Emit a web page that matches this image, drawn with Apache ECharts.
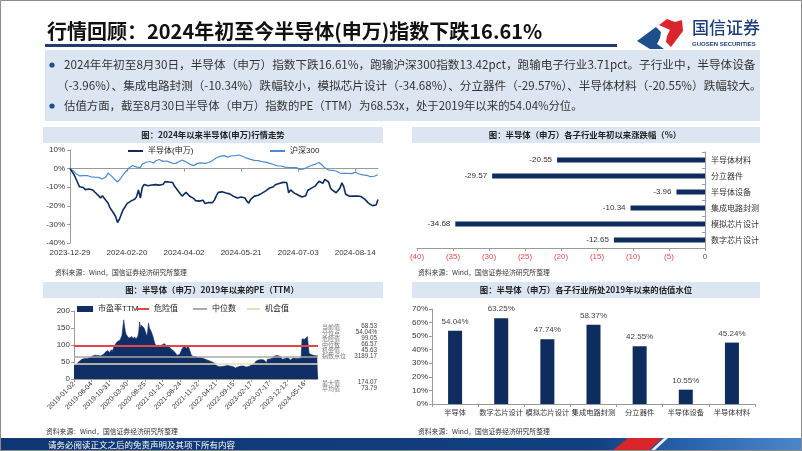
<!DOCTYPE html>
<html><head><meta charset="utf-8">
<script src="https://cdn.jsdelivr.net/npm/echarts@6/dist/echarts.min.js"></script>
<style>html,body{margin:0;padding:0;background:#fff}#main{width:802px;height:451px}</style>
</head><body><div id="main"></div>
<script>
// ---------- Chart 1: 2024 trend ----------
const lineTicks = ['2023-12-29','2024-02-20','2024-04-02','2024-05-21','2024-07-03','2024-08-14'];
const marketHolidays = ['2024-01-01','2024-02-09','2024-02-12','2024-02-13','2024-02-14','2024-02-15','2024-02-16','2024-04-04','2024-04-05','2024-05-01','2024-05-02','2024-05-03','2024-06-10'];
const semiValues = [
0,-1.5,-3.0,-5.2,-7.5,-9.8,-10.8,-10.2,-11.3,-10.6,
-11.0,-12.0,-11.5,-12.6,-13.2,-14.5,-15.8,-14.6,-15.9,-16.8,
-18.5,-21.0,-22.5,-24.0,-25.8,-29.0,-27.2,-24.5,-22.0,-20.5,
-18.8,-18.0,-17.5,-17.8,-16.5,-15.2,-11.5,-15.8,-10.2,-8.5,
-8.0,-9.2,-9.6,-8.8,-8.2,-8.6,-7.8,-8.9,-9.8,-8.4,
-7.0,-6.5,-7.2,-6.8,-7.5,-9.5,-10.8,-12.2,-13.5,-14.8,
-13.9,-12.8,-13.5,-14.9,-15.2,-16.0,-17.2,-17.8,-17.5,-16.6,
-17.0,-18.8,-19.6,-18.2,-19.0,-18.3,-16.8,-14.5,-12.8,-13.2,
-12.5,-12.0,-13.1,-14.0,-13.6,-14.5,-14.9,-15.4,-15.8,-15.0,
-15.3,-15.1,-15.8,-17.5,-18.6,-16.5,-15.8,-14.8,-15.2,-14.3,
-14.0,-13.2,-12.4,-12.0,-11.0,-10.4,-9.6,-9.8,-8.7,-8.4,
-8.0,-7.6,-7.4,-7.2,-7.5,-13.0,-11.5,-12.3,-13.2,-13.8,
-14.2,-14.9,-15.3,-15.0,-14.6,-11.8,-11.0,-10.5,-9.8,-9.4,
-8.0,-6.8,-7.4,-7.9,-5.8,-5.0,-7.2,-10.4,-11.6,-12.3,
-13.0,-12.2,-10.5,-7.6,-9.8,-13.8,-14.6,-14.9,-14.6,-14.8,
-15.1,-14.7,-14.4,-15.0,-15.6,-16.4,-17.5,-18.6,-19.5,-19.9,
-20.5,-19.6,-16.61];
const hs300Values = [
0,-0.6,-1.5,-2.6,-3.2,-3.9,-4.2,-3.8,-4.1,-3.7,
-4.1,-4.4,-4.0,-4.6,-5.5,-4.7,-5.3,-5.6,-5.0,-4.4,
-2.4,-3.0,-4.2,-5.3,-6.2,-7.2,-6.6,-4.8,-3.2,-2.0,
-0.9,0.3,1.3,1.7,1.2,0.8,1.5,0.6,2.4,2.9,
3.4,3.1,3.8,3.3,3.0,4.2,4.6,4.9,4.3,3.9,
4.4,4.1,3.6,3.2,2.8,2.6,2.9,3.5,4.3,4.6,
4.0,3.6,3.0,2.4,2.0,1.6,2.3,2.8,2.1,3.1,
3.4,2.8,2.6,3.3,3.6,4.4,5.2,5.8,6.4,6.6,
6.3,7.0,6.7,6.2,6.4,6.9,7.3,7.0,7.5,7.3,
6.8,6.5,6.0,5.6,5.4,5.0,4.6,4.4,4.7,4.3,
4.0,3.8,4.1,3.5,3.1,2.8,2.5,2.2,1.9,1.5,
1.2,1.4,1.0,0.8,1.1,0.6,0.9,0.5,0.3,0.5,
-0.1,-0.4,-0.6,-0.2,0.3,0.9,1.4,1.7,2.0,2.3,
2.9,3.3,2.5,1.5,0.4,-0.5,-0.8,-0.4,-1.0,-0.6,
-1.3,-1.9,-2.4,-2.1,-2.6,-2.8,-2.5,-2.9,-2.7,-2.2,
-2.0,-2.6,-2.9,-3.1,-3.4,-3.0,-3.6,-3.9,-4.3,-4.6,
-4.1,-3.7,-3.3];

// ---------- Chart 2: sub-industry YTD change ----------
const subCats = ['数字芯片设计','模拟芯片设计','集成电路封测','半导体设备','分立器件','半导体材料'];
const subChanges = [-12.65,-34.68,-10.34,-3.96,-29.57,-20.55];

// ---------- Chart 3: PE (TTM) since 2019 (weekly samples) ----------
const peTicks = ['2019-01-02','2019-06-04','2019-10-31','2020-03-30','2020-08-25','2021-01-21','2021-06-24','2021-11-22','2022-04-21','2022-09-15','2023-02-17','2023-07-17','2023-12-12','2024-05-16'];
const peValues = [
41,40,42,44,46,48,52,55,57,58,
59,58,60,59,61,60,62,61,63,66,
67,68,67,69,70,68,67,69,66,67,
68,67,70,72,74,78,80,82,84,80,
78,82,86,80,85,95,100,104,108,110,
112,113,115,118,128,150,174,155,138,130,
125,128,120,118,122,125,120,118,124,120,
118,122,126,140,168,150,158,162,155,150,
145,135,125,140,165,150,152,140,135,125,
115,105,100,95,92,94,96,95,98,100,
97,95,104,100,98,96,94,98,92,90,
88,85,82,80,78,76,70,66,68,72,
78,84,90,92,96,98,95,90,97,94,
88,80,72,68,66,67,65,66,64,65,
63,64,62,63,61,62,60,58,59,57,
56,55,54,52,53,51,50,48,47,45,
42,39,37,35,36,34,36,37,38,36,
38,39,38,40,39,37,38,40,39,37,
35,33,32,34,35,36,37,36,38,37,
36,38,37,36,35,37,38,37,39,40,
41,42,43,45,47,52,55,57,56,55,
56,57,56,55,56,57,55,48,58,60,
58,59,61,60,62,65,68,72,70,69,
66,64,67,65,62,58,60,56,60,62,
64,63,60,58,56,57,60,62,64,62,
60,61,63,60,58,60,62,118,116,120,
117,119,118,125,128,75,72,73,71,72,
70,69,71,70,68,68.53];
const peDanger = 99.05, peMedian = 66.57, peChance = 45.63;
const peStatLabels = ['当前值','分位点','危险值','中位数','机会值','指数点位','最大值','平均值'];
const peStatValues = ['68.53','54.04%','99.05','66.57','45.63','3189.17','174.07','73.79'];

// ---------- Chart 4: valuation percentile ----------
const valCats = ['半导体','数字芯片设计','模拟芯片设计','集成电路封测','分立器件','半导体设备','半导体材料'];
const valPct = [54.04,63.25,47.74,58.37,42.55,10.55,45.24];

// ---------- build categories ----------
function tradingDays(start, end, hol) {
  const out = []; const hs = new Set(hol);
  const d = new Date(start + 'T00:00:00Z'); const e = new Date(end + 'T00:00:00Z');
  while (d <= e) {
    const wd = d.getUTCDay(); const s = d.toISOString().slice(0, 10);
    if (wd !== 0 && wd !== 6 && !hs.has(s)) out.push(s);
    d.setUTCDate(d.getUTCDate() + 1);
  }
  return out;
}
const lineDates = tradingDays('2023-12-29', '2024-08-30', marketHolidays);
const peCats = peValues.map((_, i) => String(i));

const NAVY = '#0e2d5e';
const FONT = '"Liberation Sans", "Noto Sans CJK SC", sans-serif';
const CJK = '"Noto Sans CJK SC", sans-serif';
const axisGray = '#9a9a9a';

const chart = echarts.init(document.getElementById('main'), null, {renderer: 'canvas'});

function txt(x, y, text, font, fill, align) {
  return {type: 'text', x: x, y: y, silent: true,
    style: {text: text, font: font, fill: fill || '#222', textAlign: align || 'left', textVerticalAlign: 'middle'}};
}
function rect(x, y, w, h, fill) {
  return {type: 'rect', silent: true, shape: {x: x, y: y, width: w, height: h}, style: {fill: fill}};
}

const graphics = [
  {type: 'rect', silent: true, z: 100, shape: {x: 0.5, y: 0.5, width: 801, height: 450}, style: {fill: 'none', stroke: '#8c8c8c', lineWidth: 1}},
  txt(47, 31, '行情回顾：2024年初至今半导体(申万)指数下跌16.61%', 'bold 20px ' + CJK, '#111'),
  rect(45, 44, 572, 3, '#1f3d6e'),
  // logo
  {type: 'polygon', silent: true, shape: {points: [[637, 41], [656, 27], [661, 32], [660, 38], [657, 44], [664, 49], [650, 49]]}, style: {fill: '#1f4e8c'}},
  {type: 'polygon', silent: true, shape: {points: [[659, 25], [667, 19], [675, 22], [682, 20], [683, 31], [671, 47], [666, 42], [667, 36], [670, 30]]}, style: {fill: '#d9262c'}},
  txt(692, 28, '国信证券', '500 17px ' + CJK, '#1c3f7a'),
  txt(692, 44.5, 'GUOSEN SECURITIES', 'bold 6px "Liberation Sans", sans-serif', '#1c3f7a'),
  // text box
  rect(45, 50, 715, 71, '#dce6f2'),
  {type: 'circle', silent: true, shape: {cx: 52, cy: 65, r: 2.6}, style: {fill: '#1f4e8c'}},
  {type: 'circle', silent: true, shape: {cx: 52, cy: 106, r: 2.6}, style: {fill: '#1f4e8c'}},
  txt(64, 65, '2024年年初至8月30日，半导体（申万）指数下跌16.61%，跑输沪深300指数13.42pct，跑输电子行业3.71pct。子行业中，半导体设备', '11.65px ' + CJK, '#333'),
  txt(57, 85.5, '（-3.96%）、集成电路封测（-10.34%）跌幅较小，模拟芯片设计（-34.68%）、分立器件（-29.57%）、半导体材料（-20.55%）跌幅较大。', '11.6px ' + CJK, '#333'),
  txt(64, 106, '估值方面，截至8月30日半导体（申万）指数的PE（TTM）为68.53x，处于2019年以来的54.04%分位。', '11.4px ' + CJK, '#333'),
  // chart title bars
  rect(43, 127, 340, 16, '#dce6f2'),
  rect(412, 127, 348, 16, '#dce6f2'),
  rect(43, 282, 340, 16, '#dce6f2'),
  rect(412, 282, 348, 16, '#dce6f2'),
  txt(213, 135, '图：2024年以来半导体(申万)行情走势', 'bold 8.4px ' + CJK, '#222', 'center'),
  txt(585, 135, '图：半导体（申万）各子行业年初以来涨跌幅（%）', 'bold 8.4px ' + CJK, '#222', 'center'),
  txt(212, 290, '图：半导体（申万）2019年以来的PE（TTM）', 'bold 8.4px ' + CJK, '#222', 'center'),
  txt(586, 290, '图：半导体（申万）各子行业所处2019年以来的估值水位', 'bold 8.4px ' + CJK, '#222', 'center'),
  // sources
  txt(55, 272, '资料来源：Wind，国信证券经济研究所整理', '6.8px ' + CJK, '#333'),
  txt(418, 272, '资料来源：Wind，国信证券经济研究所整理', '6.8px ' + CJK, '#333'),
  txt(46, 431, '资料来源：Wind，国信证券经济研究所整理', '6.8px ' + CJK, '#333'),
  txt(418, 431, '资料来源：Wind，国信证券经济研究所整理', '6.8px ' + CJK, '#333'),
  // footer
  {type: 'rect', silent: true, shape: {x: 0, y: 438, width: 802, height: 13},
    style: {fill: new echarts.graphic.LinearGradient(0, 0, 1, 0, [{offset: 0, color: '#0f3774'}, {offset: 0.74, color: '#12407f'}, {offset: 0.86, color: '#2a64ad'}, {offset: 1, color: '#4d86c8'}])}},
  {type: 'polygon', silent: true, shape: {points: [[612, 451], [628, 438], [662, 438], [648, 451]]}, style: {fill: '#d9262c'}},
  {type: 'polygon', silent: true, shape: {points: [[650, 451], [664, 438], [668, 438], [654, 451]]}, style: {fill: '#e9eef6'}},
  txt(48, 444.5, '请务必阅读正文之后的免责声明及其项下所有内容', '8.5px ' + CJK, '#ffffff')
];
// PE stats
const statY = [326.7, 332.7, 338.7, 344.3, 350, 356, 382.7, 388.3];
peStatLabels.forEach((l, i) => {
  graphics.push(txt(322, statY[i], l, '6px ' + CJK, '#7a7a7a'));
  graphics.push(txt(377, statY[i], peStatValues[i], '6.3px "Liberation Sans", sans-serif', '#444', 'right'));
});

const lineLegendBase = {orient: 'horizontal', icon: 'rect', itemWidth: 15, itemHeight: 2, textStyle: {fontSize: 8, color: '#222', fontFamily: FONT}, padding: 0};

const option = {
  animation: false,
  textStyle: {fontFamily: FONT},
  grid: [
    {left: 70, top: 150, width: 308, height: 93, containLabel: false, outerBoundsMode: 'none'},
    {left: 417, top: 152, width: 288, height: 96, containLabel: false, outerBoundsMode: 'none'},
    {left: 74, top: 311, width: 244, height: 68, containLabel: false, outerBoundsMode: 'none'},
    {left: 432, top: 309, width: 323, height: 95, containLabel: false, outerBoundsMode: 'none'}
  ],
  legend: [
    Object.assign({}, lineLegendBase, {left: 128, top: 147, data: ['半导体(申万)']}),
    Object.assign({}, lineLegendBase, {left: 270, top: 147, data: ['沪深300']}),
    {left: 77, top: 305, padding: 0, icon: 'rect', itemWidth: 16, itemHeight: 6, data: ['市盈率TTM'], textStyle: {fontSize: 8, color: '#222', fontFamily: FONT}},
    Object.assign({}, lineLegendBase, {left: 136, top: 305, itemWidth: 13, data: ['危险值']}),
    Object.assign({}, lineLegendBase, {left: 193, top: 305, itemWidth: 14, data: ['中位数']}),
    Object.assign({}, lineLegendBase, {left: 247, top: 305, itemWidth: 13, data: ['机会值']})
  ],
  xAxis: [
    {gridIndex: 0, type: 'category', data: lineDates, boundaryGap: false,
      axisLine: {show: false, onZero: false}, axisTick: {show: false},
      axisLabel: {interval: 29, fontSize: 8, color: '#333', margin: 6,
        formatter: (v, i) => (i % 30 === 0 && lineTicks[i / 30]) ? lineTicks[i / 30] : ''}},
    {gridIndex: 0, type: 'category', data: lineDates, boundaryGap: false, position: 'bottom',
      axisLine: {show: true, onZero: true, lineStyle: {color: axisGray, width: 1}},
      axisTick: {show: true, interval: 29, length: 3, lineStyle: {color: axisGray}}, axisLabel: {show: false}},
    {gridIndex: 1, type: 'value', min: -40, max: 0, interval: 5,
      axisLine: {show: true, onZero: false, lineStyle: {color: axisGray}}, axisTick: {show: true, length: 3, lineStyle: {color: axisGray}},
      splitLine: {show: false},
      axisLabel: {margin: 5, formatter: v => v === 0 ? '{z|0}' : '{r|(' + (-v) + ')}',
        rich: {r: {color: '#e8474a', fontSize: 8, fontFamily: FONT}, z: {color: '#555', fontSize: 8, fontFamily: FONT}}}},
    {gridIndex: 2, type: 'category', data: peCats, boundaryGap: false,
      axisLine: {show: true, lineStyle: {color: axisGray}}, axisTick: {show: true, interval: 19, length: 3, lineStyle: {color: axisGray}},
      axisLabel: {interval: 19, rotate: 45, fontSize: 7, color: '#333', margin: 4,
        formatter: (v, i) => (i % 20 === 0 && peTicks[i / 20]) ? peTicks[i / 20] : ''}},
    {gridIndex: 3, type: 'category', data: valCats,
      axisLine: {show: true, lineStyle: {color: axisGray}}, axisTick: {show: true, length: 3, lineStyle: {color: axisGray}},
      axisLabel: {interval: 0, fontSize: 7.3, color: '#333', margin: 5, fontFamily: CJK}}
  ],
  yAxis: [
    {gridIndex: 0, type: 'value', min: -40, max: 10, interval: 10,
      axisLine: {show: true, lineStyle: {color: axisGray}}, axisTick: {show: true, length: 3, lineStyle: {color: axisGray}},
      splitLine: {show: false}, axisLabel: {formatter: '{value}%', fontSize: 8, color: '#333', margin: 5}},
    {gridIndex: 1, type: 'category', data: subCats, position: 'right',
      axisLine: {show: true, onZero: false, lineStyle: {color: axisGray}}, axisTick: {show: true, inside: true, length: 3, lineStyle: {color: axisGray}},
      axisLabel: {fontSize: 8, color: '#333', margin: 6, fontFamily: CJK}},
    {gridIndex: 2, type: 'value', min: 0, max: 200, interval: 50,
      axisLine: {show: true, lineStyle: {color: axisGray}}, axisTick: {show: true, length: 3, lineStyle: {color: axisGray}},
      splitLine: {show: false}, axisLabel: {fontSize: 8, color: '#333', margin: 4}},
    {gridIndex: 3, type: 'value', min: 0, max: 70, interval: 10,
      axisLine: {show: true, lineStyle: {color: axisGray}}, axisTick: {show: true, length: 3, lineStyle: {color: axisGray}},
      splitLine: {show: false}, axisLabel: {formatter: '{value}%', fontSize: 8, color: '#333', margin: 4}}
  ],
  series: [
    {name: '沪深300', type: 'line', xAxisIndex: 0, yAxisIndex: 0, data: hs300Values, symbol: 'none',
      lineStyle: {color: '#4a8ad4', width: 1.2}, itemStyle: {color: '#4a8ad4'}},
    {name: '半导体(申万)', type: 'line', xAxisIndex: 0, yAxisIndex: 0, data: semiValues, symbol: 'none',
      lineStyle: {color: NAVY, width: 1.6}, itemStyle: {color: NAVY}},
    {name: '涨跌幅', type: 'bar', xAxisIndex: 2, yAxisIndex: 1, data: subChanges, barWidth: 5,
      itemStyle: {color: NAVY},
      label: {show: true, position: 'left', distance: 5, fontSize: 8, color: '#333', formatter: p => p.value.toFixed(2)}},
    {name: '市盈率TTM', type: 'line', xAxisIndex: 3, yAxisIndex: 2, data: peValues, symbol: 'none',
      lineStyle: {color: '#0f2f66', width: 0.6}, itemStyle: {color: '#0f2f66'}, areaStyle: {color: '#0f2f66', opacity: 1}},
    {name: '危险值', type: 'line', xAxisIndex: 3, yAxisIndex: 2, data: [], symbol: 'none',
      lineStyle: {color: '#e04848', width: 2}, itemStyle: {color: '#e04848'},
      markLine: {silent: true, symbol: 'none', label: {show: false}, lineStyle: {color: '#e04848', width: 2, type: 'solid'}, data: [{yAxis: peDanger}]}},
    {name: '中位数', type: 'line', xAxisIndex: 3, yAxisIndex: 2, data: [], symbol: 'none',
      lineStyle: {color: '#a9a9a9', width: 1.5}, itemStyle: {color: '#a9a9a9'},
      markLine: {silent: true, symbol: 'none', label: {show: false}, lineStyle: {color: '#a9a9a9', width: 1.5, type: 'solid'}, data: [{yAxis: peMedian}]}},
    {name: '机会值', type: 'line', xAxisIndex: 3, yAxisIndex: 2, data: [], symbol: 'none',
      lineStyle: {color: '#e3dfb8', width: 1.5}, itemStyle: {color: '#e3dfb8'},
      markLine: {silent: true, symbol: 'none', label: {show: false}, lineStyle: {color: '#e3dfb8', width: 1.5, type: 'solid'}, data: [{yAxis: peChance}]}},
    {name: '估值水位', type: 'bar', xAxisIndex: 4, yAxisIndex: 3, data: valPct, barWidth: 14,
      itemStyle: {color: NAVY},
      label: {show: true, position: 'top', fontSize: 8, color: '#444', formatter: p => p.value.toFixed(2) + '%'}}
  ],
  graphic: graphics
};
chart.setOption(option);
</script>
</body></html>
